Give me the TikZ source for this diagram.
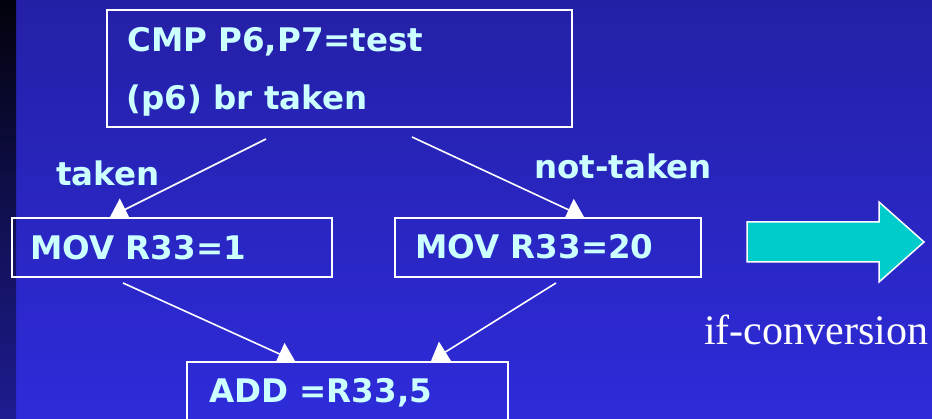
\documentclass[tikz,border=0pt]{standalone}
\usepackage{fontspec}
\usetikzlibrary{arrows.meta}
\newfontfamily\codefont{DejaVu Sans}
\newfontfamily\notefont{Liberation Serif}
\definecolor{bgtop}{RGB}{36,32,166}
\definecolor{bgbot}{RGB}{46,43,218}
\definecolor{striptop}{RGB}{2,2,12}
\definecolor{stripbot}{RGB}{30,28,145}
\definecolor{codecyan}{RGB}{204,255,255}
\definecolor{arrowteal}{RGB}{0,204,204}

\tikzset{
  blockbox/.style={draw=white, line width=2pt, rectangle, inner sep=0pt, outer sep=0pt},
  codetext/.style={text=codecyan, font=\codefont\bfseries\fontsize{32.5}{38}\selectfont,
                   anchor=base west, inner sep=0pt},
  flow/.style={draw=white, line width=1.6pt, -{Triangle[length=17pt,width=24pt]}},
  bigarrow/.style={fill=arrowteal, draw=white, line width=1.5pt, line join=miter},
  notetext/.style={text=white, font=\notefont\fontsize{42}{50}\selectfont,
                   anchor=base west, inner sep=0pt},
}

\begin{document}
\begin{tikzpicture}[x=1pt,y=-1pt]
\useasboundingbox (0,0) rectangle (932,419);
\clip (0,0) rectangle (932,419);

% background with the dark band on the left
\fill[top color=bgtop, bottom color=bgbot] (0,0) rectangle (932,419);
\fill[top color=striptop, bottom color=stripbot] (0,0) rectangle (16,419);
\coordinate (E) at (932,0);

% basic blocks
\node[blockbox, minimum width=465pt, minimum height=117pt] (cmp)  at (339.5,68.5) {};
\node[blockbox, minimum width=320pt, minimum height=59pt]  (mov1) at (172,247.5) {};
\node[blockbox, minimum width=306pt, minimum height=59pt]  (mov2) at (548,247.5) {};
\node[blockbox, minimum width=321pt, minimum height=62pt]  (add)  at (347.5,393) {};

% control-flow edges, cut off at the top edge of the target block
\begin{scope}
  \clip (0,0) rectangle (E |- mov1.north);
  \draw[flow] ([shift={(159,12)}]cmp.south west) -- ([shift={(98,-1)}]mov1.north west);
\end{scope}
\begin{scope}
  \clip (0,0) rectangle (E |- mov2.north);
  \draw[flow] ([shift={(305,10)}]cmp.south west) -- ([shift={(189,-1)}]mov2.north west);
\end{scope}
\begin{scope}
  \clip (0,0) rectangle (E |- add.north);
  \draw[flow] ([shift={(111,6)}]mov1.south west) -- ([shift={(108,-1)}]add.north west);
  \draw[flow] ([shift={(161,6)}]mov2.south west) -- ([shift={(244,-1)}]add.north west);
\end{scope}

% block contents
\node[codetext] (cmpl1) at (127,52)   {CMP P6,P7=test};
\node[codetext] (cmpl2) at (126.5,110) {(p6) br taken};
\node[codetext] (mov1t) at (30,260)    {MOV R33=1};
\node[codetext] (mov2t) at (415,259)   {MOV R33=20};
\node[codetext] (addt)  at (209,403)   {ADD =R33,5};

% edge labels
\node[codetext] (lbltaken)    at (56,186)  {taken};
\node[codetext] (lblnottaken) at (534,179) {not-taken};

% transformation arrow
\draw[bigarrow] (747,222) -- (879,222) -- (879,202) -- (924,242)
                -- (879,282) -- (879,262) -- (747,262) -- cycle;
\node[notetext] (ifconv) at (704,345) {if-conversion};
\end{tikzpicture}
\end{document}
